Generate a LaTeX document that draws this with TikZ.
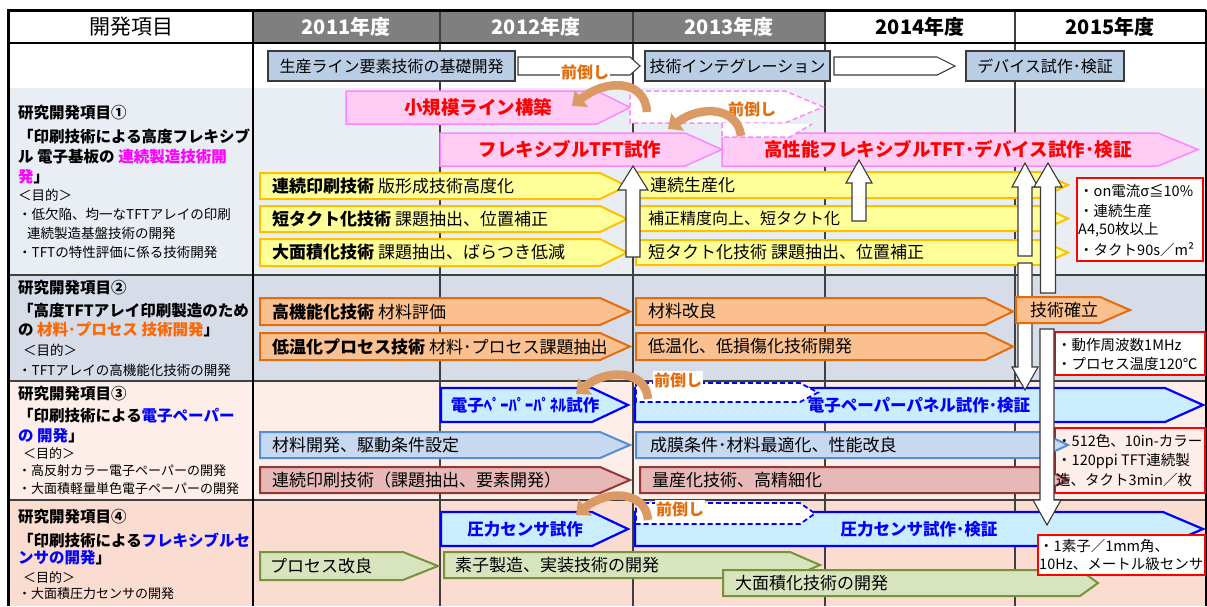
\documentclass[tikz,border=0pt]{standalone}
\usepackage{fontspec}
\setmainfont{Noto Sans CJK JP}
\usetikzlibrary{arrows.meta}
\definecolor{hdrgray}{HTML}{7F7F7F}
\definecolor{rowa}{HTML}{E9EDF4}
\definecolor{rowb}{HTML}{D6DCE8}
\definecolor{rowc}{HTML}{FDEEE9}
\definecolor{rowd}{HTML}{FBDCD0}
\definecolor{stfill}{HTML}{B9CDE5}
\definecolor{stdraw}{HTML}{3A3A3A}
\definecolor{pkfill}{HTML}{FFCCF5}
\definecolor{pkdraw}{HTML}{FF85FF}
\definecolor{redtxt}{HTML}{FF0000}
\definecolor{yfill}{HTML}{FFFF99}
\definecolor{ydraw}{HTML}{FFC000}
\definecolor{ofill}{HTML}{FAC090}
\definecolor{odraw}{HTML}{E46C0A}
\definecolor{bfill}{HTML}{CCECFF}
\definecolor{bdraw}{HTML}{0000FF}
\definecolor{lbfill}{HTML}{C6D9F1}
\definecolor{lbdraw}{HTML}{558ED5}
\definecolor{rfill}{HTML}{E6B9B8}
\definecolor{rdraw}{HTML}{953735}
\definecolor{gfill}{HTML}{D7E4BD}
\definecolor{gdraw}{HTML}{77933C}
\definecolor{mag}{HTML}{FF00FF}
\definecolor{ora}{HTML}{FF6600}
\definecolor{maetxt}{HTML}{E46C0A}
\definecolor{carrc}{HTML}{DB9A64}
\definecolor{gridc}{HTML}{404040}
\newcommand\fz[1]{\fontsize{#1}{#1}\selectfont}
\newcommand\myarrow[6]{\draw[#1] (#2,#5) -- (#4,#5) -- (#3,{(#5+#6)/2}) -- (#4,#6) -- (#2,#6) -- cycle;}
\newcommand\blockarr[6]{\draw[warr] (#1,#2) -- ({#1+#6},#3) -- ({#1+#5},#3) -- ({#1+#5},#4) -- ({#1-#5},#4) -- ({#1-#5},#3) -- ({#1-#6},#3) -- cycle;}
\tikzset{
  gridline/.style={draw=gridc, line width=1.1pt},
  rowline/.style={draw=gridc, line width=1.5pt},
  stbox/.style={draw=stdraw, fill=stfill, line width=1.2pt, inner sep=0pt, minimum height=30pt, font=\fz{16}},
  sarr/.style={draw=stdraw, fill=white, line width=1.1pt},
  parr/.style={draw=pkdraw, fill=pkfill, line width=1.5pt},
  pdash/.style={draw=pkdraw, fill=white, line width=1.5pt, dash pattern=on 5pt off 3pt},
  yarr/.style={draw=ydraw, fill=yfill, line width=2pt},
  oarr/.style={draw=odraw, fill=ofill, line width=2pt},
  barr/.style={draw=bdraw, fill=bfill, line width=2.2pt},
  bdash/.style={draw=bdraw, fill=white, line width=1.8pt, dash pattern=on 5pt off 3pt},
  lbarr/.style={draw=lbdraw, fill=lbfill, line width=2pt},
  rarr/.style={draw=rdraw, fill=rfill, line width=2pt},
  garr/.style={draw=gdraw, fill=gfill, line width=2pt},
  warr/.style={draw=stdraw, fill=white, line width=1.1pt, line join=miter},
  carr/.style={line width=8.5pt, draw=carrc, -{Triangle[length=12pt,width=21pt]}},
  t/.style={inner sep=0pt, anchor=west, font=\fz{17}},
  ts/.style={inner sep=0pt, anchor=west, font=\fz{16}},
  lt/.style={inner sep=0pt, anchor=west, font=\fz{15.5}\bfseries},
  lp/.style={inner sep=0pt, anchor=west, font=\fz{13.5}},
  lps/.style={inner sep=0pt, anchor=west, font=\fz{13}},
  nt/.style={inner sep=0pt, anchor=west, font=\fz{14.5}},
  redb/.style={inner sep=0pt, font=\fz{18.5}\bfseries, text=redtxt},
  blueb/.style={inner sep=0pt, font=\fz{16.5}\bfseries, text=bdraw},
  mae/.style={inner sep=1pt, fill=white, font=\fz{16}\bfseries, text=maetxt},
  note/.style={draw=redtxt, line width=1.2pt},
  yr/.style={inner sep=0pt, font=\fz{20}\bfseries}
}
\begin{document}
\begin{tikzpicture}[x=1pt,y=-1pt]
\useasboundingbox (0,0) rectangle (1207,606);
% backgrounds
\fill[white] (0,0) rectangle (1207,606);
\fill[rowa] (10,88) rectangle (1206,275);
\fill[rowb] (10,275) rectangle (1206,381);
\fill[rowc] (10,381) rectangle (1206,500);
\fill[rowd] (10,500) rectangle (1206,606);
\fill[hdrgray] (253,10) rectangle (825,43);
% grid
\foreach \gx in {440,633,825,1015} {\draw[gridline] (\gx,10) -- (\gx,606);}
\draw[rowline] (10,275) -- (1206,275);
\draw[rowline] (10,381) -- (1206,381);
\draw[rowline] (10,500) -- (1206,500);
\draw[black, line width=1.5pt] (10,43) -- (1206,43);
\draw[black, line width=1.5pt] (253,10) -- (253,606);
\draw[black, line width=1.2pt] (1206,10) -- (1206,606);
\draw[black, line width=3pt] (8.5,606) -- (8.5,10.5) -- (1206,10.5);
% header
\node[font=\fz{21}, inner sep=0pt] (hd) at (131,27) {開発項目};
\node[yr, text=white] (y11) at (346,27) {2011年度};
\node[yr, text=white] (y12) at (536,27) {2012年度};
\node[yr, text=white] (y13) at (729,27) {2013年度};
\node[yr] (y14) at (920,27) {2014年度};
\node[yr] (y15) at (1110,27) {2015年度};
% stage row
\node[stbox, minimum width=247pt] (s1) at (391.5,66) {生産ライン要素技術の基礎開発};
\node[stbox, minimum width=185pt] (s2) at (737.5,66) {技術インテグレーション};
\node[stbox, minimum width=158pt] (s3) at (1045,66) {デバイス試作･検証};
\myarrow{sarr}{518}{640}{630}{57}{75}
\myarrow{sarr}{834}{955}{937}{57}{75}
% left column texts
\node[lt] (l1a) at (18,113) {研究開発項目①};
\node[lt] (l1b) at (18,136) {「印刷技術による高度フレキシブ};
\node[lt] (l1c) at (18,157) {ル 電子基板の \textcolor{mag}{連続製造技術開}};
\node[lt] (l1d) at (18,177) {\textcolor{mag}{発}」};
\node[lp] (l1e) at (18,195) {＜目的＞};
\node[lp] (l1f) at (18,214) {・低欠陥、均一なTFTアレイの印刷};
\node[lp] (l1g) at (27,233) {連続製造基盤技術の開発};
\node[lp] (l1h) at (18,252) {・TFTの特性評価に係る技術開発};
\node[lt] (l2a) at (18,288) {研究開発項目②};
\node[lt] (l2b) at (18,311) {「高度TFTアレイ印刷製造のため};
\node[lt] (l2c) at (18,330) {の \textcolor{ora}{材料･プロセス 技術開発}」};
\node[lp] (l2d) at (23,350) {＜目的＞};
\node[lp] (l2e) at (18,370) {・TFTアレイの高機能化技術の開発};
\node[lt] (l3a) at (18,394) {研究開発項目③};
\node[lt] (l3b) at (18,416) {「印刷技術による\textcolor{bdraw}{電子ペーパー}};
\node[lt] (l3c) at (18,436) {\textcolor{bdraw}{の 開発}」};
\node[lps] (l3d) at (23,453) {＜目的＞};
\node[lps] (l3e) at (18,471) {・高反射カラー電子ペーパーの開発};
\node[lps] (l3f) at (18,489) {・大面積軽量単色電子ペーパーの開発};
\node[lt] (l4a) at (18,517) {研究開発項目④};
\node[lt] (l4b) at (18,540) {「印刷技術による\textcolor{bdraw}{フレキシブルセ}};
\node[lt] (l4c) at (18,558) {\textcolor{bdraw}{ンサの開発}」};
\node[lps] (l4d) at (23,577) {＜目的＞};
\node[lps] (l4e) at (18,594) {・大面積圧力センサの開発};
% pink arrows row 1
\myarrow{parr}{346}{630}{597}{91}{124}
\node[redb] (p1) at (478,107) {小規模ライン構築};
\myarrow{pdash}{630}{823}{785}{91}{123}
\myarrow{parr}{440}{722}{685}{133}{166}
\node[redb] (p2) at (570,149) {フレキシブルTFT試作};
\myarrow{parr}{722}{1198}{1158}{133}{166}
\draw[pdash] (722,123) -- (722,137) -- (790,137) -- (812,124);
\node[redb] (p3) at (948,149) {高性能フレキシブルTFT･デバイス試作･検証};
\node[mae] (m1) at (585,72) {前倒し};
\node[mae] (m2) at (752,109) {前倒し};
\draw[carr] (647,112) .. controls (645,80) and (607,78) .. (572,106);
\draw[carr] (741,136) .. controls (738,108) and (702,104) .. (668,129);
% yellow arrows
\myarrow{yarr}{260}{627}{600}{173}{199}
\myarrow{yarr}{260}{627}{600}{206}{232}
\myarrow{yarr}{260}{627}{600}{239}{266}
\myarrow{yarr}{636}{1068}{1040}{172}{198}
\myarrow{yarr}{636}{1068}{1040}{206}{231}
\myarrow{yarr}{636}{1068}{1040}{240}{265}
\node[t] (ya) at (272,186) {\textbf{連続印刷技術} 版形成技術高度化};
\node[t] (yb) at (272,219.5) {\textbf{短タクト化技術} 課題抽出、位置補正};
\node[t] (yc) at (272,252.5) {\textbf{大面積化技術} 課題抽出、ばらつき低減};
\node[t] (yd) at (650,185) {連続生産化};
\node[ts] (ye) at (648,218.5) {補正精度向上、短タクト化};
\node[t] (yf) at (648,252.5) {短タクト化技術 課題抽出、位置補正};
% orange arrows
\myarrow{oarr}{260}{630}{600}{298}{325}
\myarrow{oarr}{260}{630}{600}{333}{360}
\myarrow{oarr}{636}{1013}{985}{298}{325}
\myarrow{oarr}{636}{1013}{985}{333}{360}
\node[t] (oa) at (272,311.5) {\textbf{高機能化技術} 材料評価};
\node[t] (ob) at (272,346.5) {\textbf{低温化プロセス技術} 材料･プロセス課題抽出};
\node[t] (oc) at (648,311.5) {材料改良};
\node[t] (od) at (648,346.5) {低温化、低損傷化技術開発};
% row 3
\node[note, minimum width=150pt, minimum height=65pt, inner sep=0pt] (n3) at (1130,460.5) {};
\myarrow{barr}{441}{628}{592}{388}{422}
\node[blueb] (b1) at (525,405) {電子ﾍﾟｰﾊﾟｰﾊﾟﾈﾙ試作};
\myarrow{barr}{635}{1203}{1165}{388}{422}
\myarrow{bdash}{636}{818}{800}{383}{402}
\node[blueb] (b2) at (919,405) {電子ペーパーパネル試作･検証};
\node[mae] (m3) at (678,380) {前倒し};
\draw[carr] (648,399) .. controls (646,370) and (607,368) .. (576,394);
\myarrow{lbarr}{260}{630}{600}{432}{458}
\myarrow{lbarr}{636}{1068}{1040}{432}{458}
\myarrow{rarr}{260}{630}{600}{467}{493}
\myarrow{rarr}{640}{1068}{1040}{467}{493}
\node[t] (c1) at (272,445) {材料開発、駆動条件設定};
\node[t] (c2) at (650,445) {成膜条件･材料最適化、性能改良};
\node[t] (c3) at (272,480) {連続印刷技術（課題抽出、要素開発）};
\node[t] (c4) at (652,480) {量産化技術、高精細化};
% row 4
\myarrow{barr}{441}{628}{592}{512}{546}
\node[blueb] (b3) at (525,529) {圧力センサ試作};
\myarrow{barr}{635}{1203}{1163}{512}{546}
\myarrow{bdash}{636}{815}{800}{503}{524}
\node[blueb] (b4) at (919,529) {圧力センサ試作･検証};
\node[mae] (m4) at (680,509) {前倒し};
\draw[carr] (648,520) .. controls (646,491) and (607,489) .. (576,515);
\myarrow{garr}{260}{438}{403}{552}{580}
\myarrow{garr}{444}{820}{790}{552}{578}
\myarrow{garr}{723}{1098}{1080}{570}{596}
\node[t] (g1) at (270,566) {プロセス改良};
\node[t] (g2) at (455,565) {素子製造、実装技術の開発};
\node[t] (g3) at (735,583) {大面積化技術の開発};
% notes (filled)
\draw[note, fill=white] (1077,178) rectangle (1203,261);
\draw[note, fill=white] (1055,332) rectangle (1205,375);
\draw[note, fill=white] (1038,535) rectangle (1205,575);
% white block arrows
\blockarr{633}{166}{190}{257}{7}{15}
\blockarr{859}{160}{183}{221}{7}{13}
\blockarr{1025}{163}{187}{256}{7}{13}
\blockarr{1025}{390}{367}{263}{7}{13}
\blockarr{1048}{163}{187}{293}{7.5}{14}
\blockarr{1047}{525}{500}{329}{7}{14}
% 技術確立
\myarrow{oarr}{1016}{1130}{1100}{297}{323}
\node[t] (oe) at (1030,310) {技術確立};
% note texts
\node[nt] (na) at (1079,191) {・on電流σ≦10\%};
\node[nt] (nb) at (1079,211) {・連続生産};
\node[nt] (nc) at (1078,230) {A4,50枚以上};
\node[nt] (nd) at (1079,250) {・タクト90s／m²};
\node[nt] (ne) at (1057,345) {・動作周波数1MHz};
\node[nt] (nf) at (1057,364) {・プロセス温度120℃};
\node[nt] (ng) at (1057,441) {・512色、10in-カラー};
\node[nt] (nh) at (1057,461) {・120ppi TFT連続製};
\node[nt] (ni) at (1056,480) {造、タクト3min／枚};
\node[nt] (nj) at (1039,546) {・1素子／1mm角、};
\node[nt] (nk) at (1039,564) {10Hz、メートル級センサ};
\end{tikzpicture}
\end{document}
